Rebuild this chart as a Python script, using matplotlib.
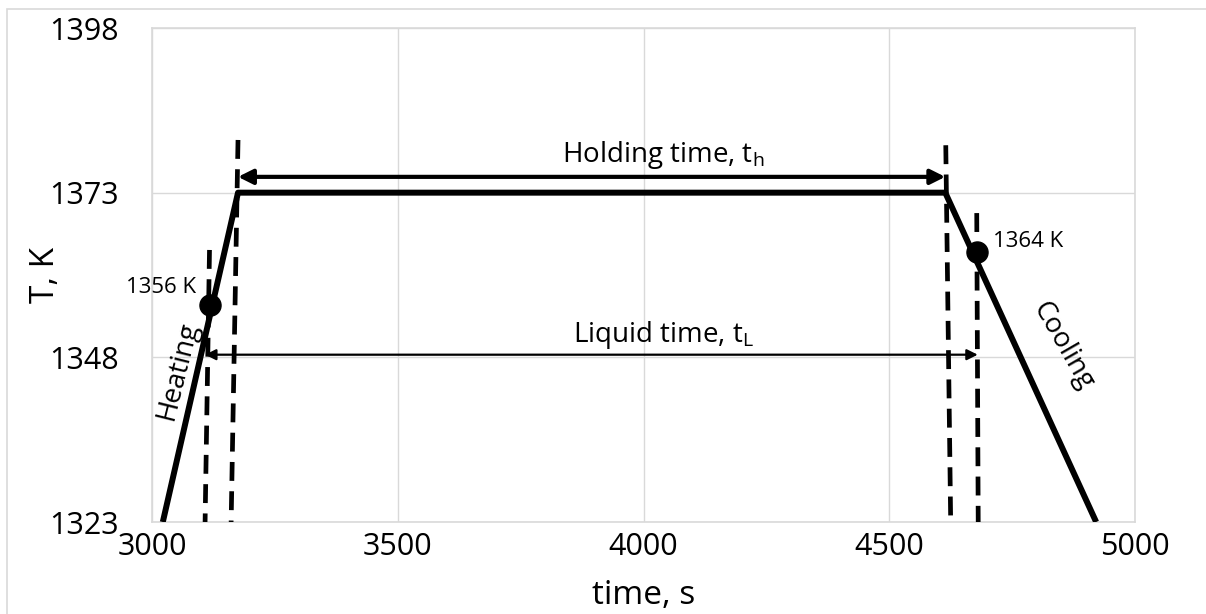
import matplotlib.pyplot as plt
from matplotlib.patches import Rectangle

plt.rcParams['font.family'] = ['Open Sans', 'DejaVu Sans']

# temperature profile of the brazing cycle
time_profile = [3022, 3175, 4614, 4921]
temp_profile = [1323, 1373, 1373, 1323]

# liquidus crossings on heating / cooling
liq_time = [3118, 4678]
liq_temp = [1356, 1364]
liq_labels = ['1356 K', '1364 K']

# dashed markers (bottom x, top x, top T)
dash_x_bottom = [3108, 3161, 4625, 4681]
dash_x_top = [3117, 3175, 4615, 4678]
dash_t_top = [1364.3, 1381, 1380.2, 1369.9]

hold_span = [3175, 4614]
hold_level = 1375.4
liquid_span = [3108, 4680]
liquid_level = 1348.4

x_ticks = [3000, 3500, 4000, 4500, 5000]
y_ticks = [1323, 1348, 1373, 1398]

grid_col = '#d9d9d9'

fig = plt.figure(figsize=(12.06, 6.14), dpi=100)
ax = fig.add_axes([152 / 1206, 1 - 522 / 614, (1135 - 152) / 1206, (522 - 28) / 614])

ax.plot(time_profile, temp_profile, color='black', lw=4.3, solid_capstyle='butt', zorder=4)

# draw dashes from the top down so each line starts with a full dash
for xb, xt, tt in zip(dash_x_bottom, dash_x_top, dash_t_top):
    ax.plot([xt, xb], [tt, 1323], color='black', lw=3.4, dashes=(4, 2.2), zorder=3)

ax.scatter(liq_time, liq_temp, s=230, color='black', zorder=5)
ax.text(3090, 1357.8, liq_labels[0], ha='right', va='baseline', fontsize=16)
ax.text(4711, 1364.7, liq_labels[1], ha='left', va='baseline', fontsize=16)

ax.annotate('', xy=(hold_span[0], hold_level), xytext=(hold_span[1], hold_level),
            arrowprops=dict(arrowstyle='<|-|>', lw=3, color='black', mutation_scale=22,
                            shrinkA=0, shrinkB=0), zorder=4)
ax.annotate('', xy=(liquid_span[0], liquid_level), xytext=(liquid_span[1], liquid_level),
            arrowprops=dict(arrowstyle='<|-|>', lw=1.6, color='black', mutation_scale=16,
                            shrinkA=0, shrinkB=0), zorder=4)

ax.text(4040, 1377.7, r'Holding time, t$_\mathregular{h}$', ha='center', va='baseline', fontsize=20)
ax.text(4040, 1350.3, r'Liquid time, t$_\mathregular{L}$', ha='center', va='baseline', fontsize=20)

ax.text(3053, 1345.9, 'Heating', rotation=76, ha='center', va='center', fontsize=20)
ax.text(4853, 1349.7, 'Cooling', rotation=-60, ha='center', va='center', fontsize=20)

ax.set_xlim(3000, 5000)
ax.set_ylim(1323, 1398)
ax.set_xticks(x_ticks)
ax.set_yticks(y_ticks)
ax.tick_params(length=0, labelsize=22)
ax.tick_params(axis='y', pad=24)
ax.tick_params(axis='x', pad=7)
ax.grid(True, color=grid_col, lw=1)
ax.set_axisbelow(True)
for s in ax.spines.values():
    s.set_color(grid_col)
    s.set_linewidth(1.2)

ax.set_xlabel('time, s', fontsize=24)
ax.set_ylabel('T, K', fontsize=24)
ax.xaxis.set_label_coords(0.5, -0.148)
ax.yaxis.set_label_coords(-0.108, 0.5)
ax.xaxis.label.set_va('center')
ax.yaxis.label.set_va('center')

# thin outer frame
fig.add_artist(Rectangle((7 / 1206, -0.05), 1.2, 1.05 - 9 / 614, transform=fig.transFigure,
                         fill=False, edgecolor=grid_col, lw=1.2))

fig.savefig('out.png', dpi=100)
